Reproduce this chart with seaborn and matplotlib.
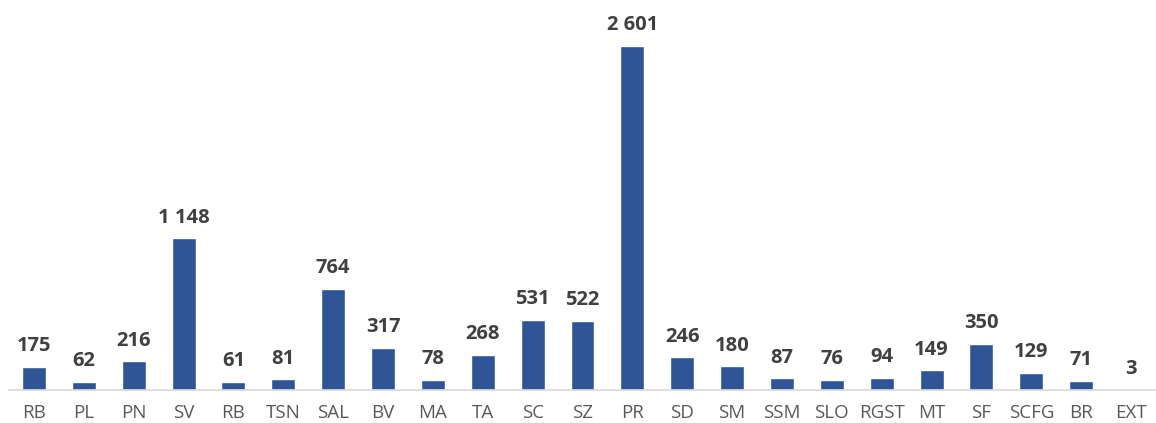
import pandas as pd
import matplotlib
matplotlib.use('Agg')
import matplotlib.pyplot as plt
import seaborn as sns

categories = ['RB', 'PL', 'PN', 'SV', 'RB', 'TSN', 'SAL', 'BV', 'MA', 'TA', 'SC', 'SZ',
              'PR', 'SD', 'SM', 'SSM', 'SLO', 'RGST', 'MT', 'SF', 'SCFG', 'BR', 'EXT']
values = [175, 62, 216, 1148, 61, 81, 764, 317, 78, 268, 531, 522,
          2601, 246, 180, 87, 76, 94, 149, 350, 129, 71, 3]

sns.set_style('white')
plt.rcParams['font.family'] = ['Open Sans', 'DejaVu Sans']

df = pd.DataFrame({'pos': range(len(categories)), 'value': values})

fig = plt.figure(figsize=(11.56, 4.23), dpi=100)
ax = fig.add_axes([9 / 1156, 33 / 423, 1147 / 1156, 390 / 423])

sns.barplot(data=df, x='pos', y='value', color='#2F5597', saturation=1,
            width=0.48, ax=ax, order=list(range(len(categories))))

# value labels with a space as thousands separator
for i, v in enumerate(values):
    label = f"{v:,}".replace(',', ' ')
    ax.text(i, v + 80, label, ha='center', va='bottom', fontsize=14.5,
            fontweight='bold', color='#404040')

ax.set_xlim(-0.5, len(categories) - 0.5)
ax.set_ylim(0, 2601 * 390 / 344)
ax.set_xticks(range(len(categories)))
ax.set_xticklabels(categories, fontsize=13.5, color='#595959')
ax.tick_params(axis='x', length=0, pad=10)
ax.set_yticks([])
ax.set_xlabel('')
ax.set_ylabel('')
for s in ['top', 'right', 'left']:
    ax.spines[s].set_visible(False)
ax.spines['bottom'].set_color('#D9D9D9')
ax.spines['bottom'].set_linewidth(1.2)

fig.savefig('out.png', dpi=100)
